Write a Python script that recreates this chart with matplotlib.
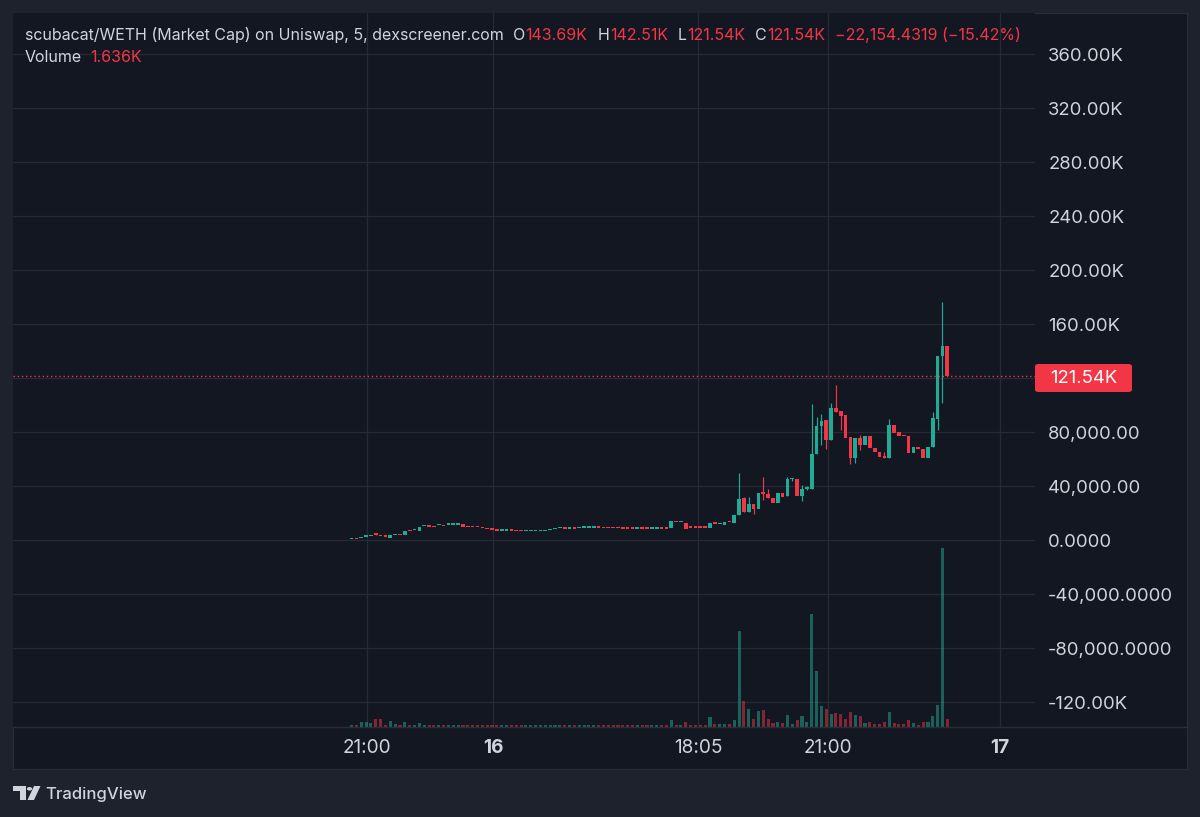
import matplotlib
matplotlib.use("Agg")
import matplotlib.pyplot as plt
from matplotlib.patches import Rectangle, FancyBboxPatch, Circle, Polygon

plt.rcParams['font.family'] = ['Inter', 'DejaVu Sans']

# ---------------- data (values in thousands) ----------------
opens = [0.6, 0.9, 1.7, 2.6, 2.9, 4.4, 3.4, 2.9, 1.7, 3.8,
         4.3, 3.7, 7.0, 7.1, 6.7, 10.2, 10.6, 10.1, 10.9, 11.0,
         11.4, 11.4, 11.4, 11.6, 10.1, 10.1, 10.0, 9.3, 8.6, 8.1,
         7.4, 7.0, 7.0, 7.3, 7.1, 6.9, 6.5, 6.5, 6.5, 6.5,
         6.5, 7.1, 8.3, 8.7, 8.8, 8.4, 8.8, 9.0, 9.2, 9.2,
         9.2, 9.6, 9.4, 9.4, 9.4, 9.1, 8.9, 8.9, 8.9, 8.5,
         8.9, 8.9, 8.5, 8.5, 8.9, 8.9, 8.9, 13.9, 13.0, 12.6,
         9.6, 9.6, 9.6, 9.6, 8.64, 12.6, 11.6, 11.36, 13.83, 12.8,
         18.77, 30.86, 20.99, 26.42, 23.21, 35.31, 33.83, 31.36, 27.65, 34.57,
         32.59, 44.9, 45.18, 32.59, 38.02, 38.02, 63.7, 84.69, 88.88, 74.07,
         97.77, 95.55, 92.59, 76.54, 60.49, 75.31, 70.12, 77.28, 68.39, 65.43,
         62.22, 60.98, 85.18, 79.75, 77.77, 77.03, 64.2, 69.13, 67.4, 60.98,
         68.64, 89.62, 136.3, 143.69]
closes = [0.9, 0.6, 2.4, 3.0, 3.9, 4.0, 3.0, 2.5, 3.7, 4.2,
          3.9, 6.9, 6.6, 7.5, 9.9, 10.9, 9.9, 9.7, 11.2, 10.6,
          11.7, 11.7, 11.7, 9.9, 9.7, 9.7, 9.6, 8.9, 8.2, 7.7,
          7.0, 7.4, 7.4, 6.9, 6.7, 6.5, 6.9, 6.9, 6.9, 6.9,
          6.9, 7.6, 8.7, 9.1, 8.4, 8.8, 8.4, 9.4, 9.6, 9.6,
          9.6, 9.2, 9.0, 9.0, 9.0, 8.7, 8.5, 8.5, 8.5, 8.9,
          8.5, 8.5, 8.9, 8.9, 8.5, 8.5, 14.0, 13.3, 13.4, 8.2,
          9.2, 9.2, 9.2, 9.2, 12.84, 12.2, 12.0, 13.33, 13.0, 18.77,
          30.37, 20.99, 26.42, 22.72, 34.57, 34.32, 30.86, 27.65, 34.57, 32.1,
          44.94, 45.18, 32.59, 37.78, 39.01, 63.7, 84.69, 87.9, 74.07, 97.77,
          95.06, 92.09, 75.31, 60.49, 75.31, 70.12, 77.28, 67.9, 64.94, 61.23,
          60.98, 85.18, 79.01, 77.28, 77.03, 64.2, 69.13, 67.16, 60.98, 68.64,
          90.12, 136.3, 143.69, 121.54]
highs = [0.9, 0.9, 2.4, 3.0, 3.9, 5.2, 3.4, 2.9, 3.7, 4.2,
         4.3, 6.9, 7.0, 7.5, 9.9, 10.9, 10.6, 10.1, 11.2, 11.0,
         11.7, 11.7, 11.7, 11.6, 10.1, 10.1, 10.0, 9.3, 8.6, 8.1,
         7.4, 7.4, 7.4, 7.3, 7.1, 6.9, 6.9, 6.9, 6.9, 6.9,
         6.9, 7.6, 8.7, 9.1, 8.8, 8.8, 8.8, 9.4, 9.6, 9.6,
         9.6, 9.6, 9.4, 9.4, 9.4, 9.1, 8.9, 8.9, 8.9, 8.9,
         8.9, 8.9, 8.9, 8.9, 8.9, 8.9, 14.0, 13.9, 13.4, 12.6,
         9.6, 9.6, 9.6, 9.6, 12.84, 12.6, 12.0, 13.33, 13.83, 18.77,
         49.38, 32.1, 32.1, 26.42, 34.57, 46.91, 37.78, 31.36, 34.57, 34.57,
         46.91, 45.6, 45.18, 40.74, 40.0, 100.7, 90.86, 93.08, 88.88, 101.23,
         114.56, 95.55, 92.59, 76.54, 75.31, 77.77, 77.28, 77.28, 68.39, 65.43,
         65.43, 89.38, 85.18, 79.75, 77.77, 77.03, 69.13, 69.13, 67.4, 68.64,
         95.06, 136.3, 176.0, 143.69]
lows = [0.6, 0.6, 1.7, 2.6, 2.9, 3.4, 3.0, 2.5, 1.7, 3.8,
        3.9, 3.7, 6.6, 7.1, 6.7, 10.2, 9.9, 9.7, 10.9, 10.6,
        11.4, 11.4, 11.4, 9.9, 9.7, 9.7, 9.6, 8.9, 8.2, 7.7,
        7.0, 7.0, 7.0, 6.9, 6.7, 6.5, 6.5, 6.5, 6.5, 6.5,
        6.5, 7.1, 8.3, 8.7, 8.4, 8.4, 8.4, 9.0, 9.2, 9.2,
        9.2, 9.2, 9.0, 9.0, 9.0, 8.7, 8.5, 8.5, 8.5, 8.5,
        8.5, 8.5, 8.5, 8.5, 8.5, 8.5, 8.9, 13.3, 13.0, 8.2,
        9.2, 9.2, 9.2, 9.2, 8.64, 12.2, 11.6, 11.36, 13.0, 12.8,
        18.77, 20.99, 20.99, 19.26, 23.21, 29.63, 30.86, 27.65, 27.65, 32.1,
        32.59, 43.5, 32.59, 29.14, 37.0, 38.02, 63.7, 70.37, 67.16, 74.07,
        95.06, 81.48, 75.31, 56.29, 56.79, 66.66, 70.12, 67.9, 64.94, 61.23,
        60.98, 60.98, 79.01, 77.28, 77.03, 64.2, 64.2, 67.16, 60.98, 60.98,
        68.64, 81.48, 101.2, 121.54]
volumes = [0.4, 0.4, 1.0, 1.0, 0.9, 1.6, 1.6, 0.4, 1.2, 0.6,
           0.4, 1.1, 0.4, 0.4, 0.8, 0.4, 0.35, 0.35, 0.35, 0.35,
           0.35, 0.35, 0.35, 0.35, 0.35, 0.35, 0.35, 0.35, 0.35, 0.35,
           0.35, 0.35, 0.35, 0.35, 0.35, 0.35, 0.35, 0.35, 0.35, 0.35,
           0.35, 0.35, 0.35, 0.35, 0.35, 0.35, 0.35, 0.35, 0.35, 0.35,
           0.35, 0.35, 0.35, 0.35, 0.35, 0.35, 0.35, 0.35, 0.35, 0.35,
           0.35, 0.35, 0.35, 0.35, 0.35, 0.35, 1.4, 0.4, 0.4, 1.0,
           0.5, 0.5, 0.5, 0.5, 2.1, 0.6, 0.6, 0.7, 0.6, 1.4,
           20.3, 5.5, 3.8, 1.8, 3.4, 3.7, 1.8, 0.85, 1.1, 0.85,
           2.55, 0.7, 1.4, 2.3, 1.0, 24.1, 11.8, 4.5, 3.8, 2.7,
           2.9, 2.8, 1.6, 3.2, 2.55, 2.3, 0.85, 1.0, 0.64, 0.64,
           1.0, 3.1, 0.8, 0.57, 0.57, 1.4, 0.85, 0.43, 1.13, 1.0,
           2.3, 4.6, 38.0, 1.636]

time_labels = ["21:00", "16", "18:05", "21:00", "17"]
time_bold = [False, True, False, False, True]
time_pos = [3.2, 29.2, 71.6, 98.4, 133.8]

price_ticks = [360, 320, 280, 240, 200, 160, 120, 80, 40, 0, -40, -80, -120]
price_labels = ["360.00K", "320.00K", "280.00K", "240.00K", "200.00K", "160.00K", "",
                "80,000.00", "40,000.00", "0.0000", "-40,000.0000", "-80,000.0000", "-120.00K"]

last_price = 121.54
title_main = "scubacat/WETH (Market Cap) on Uniswap, 5, dexscreener.com"
ohlc_text = [("O", "143.69K"), ("H", "142.51K"), ("L", "121.54K"), ("C", "121.54K")]
change_text = "\u221222,154.4319 (\u221215.42%)"
volume_text = "1.636K"

# ---------------- styling ----------------
W, H = 1200, 817
BG_OUT = "#1e222d"
BG_PANEL = "#131722"
GRID = "#262a35"
TXT = "#d1d4dc"
UP = "#22ab94"
DN = "#f23645"
FS = 11.5
FS_AX = 13.3

fig = plt.figure(figsize=(W / 100, H / 100), dpi=100, facecolor=BG_OUT)

def fx(x):
    return x / W

def fy(y):
    return 1 - y / H

# chart panel
fig.patches.append(Rectangle((fx(13), fy(769)), fx(1187) - fx(13), fy(13) - fy(769),
                             transform=fig.transFigure, facecolor=BG_PANEL,
                             edgecolor="#2a2e39", lw=0.8, zorder=-5))

ax = fig.add_axes([fx(13), fy(727), fx(1035) - fx(13), fy(13) - fy(727)])
ax.set_facecolor(BG_PANEL)

# volume on a twin axis
vax = ax.twinx()
vax.set_ylim(0, 151.7)
vax.set_yticks([])
for s in vax.spines.values():
    s.set_visible(False)

ax.set_xlim(-69.9, 141.1)
ax.set_ylim(-138.5, 390.4)
for s in ax.spines.values():
    s.set_visible(False)

ax.set_yticks(price_ticks)
ax.set_yticklabels(price_labels)
ax.yaxis.tick_right()
ax.tick_params(axis='y', which='both', left=False, right=True, labelleft=False, labelright=True,
               length=0, pad=9.5, labelsize=FS_AX, labelcolor=TXT)
ax.set_xticks(time_pos)
ax.set_xticklabels(time_labels)
ax.tick_params(axis='x', length=0, pad=8.5, labelsize=FS_AX + 0.4, labelcolor=TXT)
for lab, b in zip(ax.get_xticklabels(), time_bold):
    if b:
        lab.set_fontweight('bold')
ax.grid(True, color=GRID, lw=0.9)
ax.set_axisbelow(True)

# time-axis separator line
fig.lines.append(plt.Line2D([fx(13), fx(1187)], [fy(727), fy(727)], transform=fig.transFigure,
                            color="#2a2e39", lw=1.0))

idx = list(range(len(opens)))
vcolors = [UP if c >= o else DN for o, c in zip(opens, closes)]
vax.bar(idx, volumes, width=0.64, color=vcolors, alpha=0.5, lw=0)

# candles
min_body = 0.9
for i, (o, c, h, l) in enumerate(zip(opens, closes, highs, lows)):
    col = UP if c >= o else DN
    if h > max(o, c) or l < min(o, c):
        ax.vlines(i, l, h, color=col, lw=0.85, zorder=3)
    lo = min(o, c)
    ht = max(abs(c - o), min_body)
    ax.add_patch(Rectangle((i - 0.38, lo), 0.76, ht, facecolor=col, edgecolor='none', zorder=4))

# last price line
ax.axhline(last_price, color=DN, lw=1.0, ls=(0, (1, 2)), zorder=2)

# last price label
fig.patches.append(FancyBboxPatch((fx(1035), fy(392)), fx(1132) - fx(1035), fy(364) - fy(392),
                                  boxstyle="round,pad=0,rounding_size=0.003",
                                  transform=fig.transFigure, facecolor=DN, edgecolor='none', zorder=5))
fig.text(fx(1050), fy(378), "121.54K", color="white", fontsize=FS_AX, ha='left', va='center', zorder=6)

# header legend
fig.canvas.draw()
renderer = fig.canvas.get_renderer()

def put(x, y, s, color, gap):
    t = fig.text(fx(x), fy(y), s, color=color, fontsize=FS, ha='left', va='center')
    bb = t.get_window_extent(renderer)
    return bb.x1 + gap

x = put(25, 35, title_main, TXT, 9)
for k, (lab, val) in enumerate(ohlc_text):
    x = put(x, 35, lab, TXT, 0.5)
    x = put(x, 35, val, DN, 10)
put(x, 35, change_text, DN, 0)
x = put(25, 58, "Volume", TXT, 8)
put(x, 58, volume_text, DN, 0)

# TradingView logo
logo_col = "#d1d4dc"
fig.patches.append(Polygon([(fx(13), fy(786)), (fx(26), fy(786)), (fx(26), fy(800)), (fx(20), fy(800)),
                            (fx(20), fy(791)), (fx(13), fy(791))], closed=True,
                           transform=fig.transFigure, facecolor=logo_col, edgecolor='none'))
fig.patches.append(Circle((fx(29.5), fy(788.8)), 2.6 / W, transform=fig.transFigure,
                          facecolor=logo_col, edgecolor='none'))
fig.patches.append(Polygon([(fx(34), fy(786)), (fx(40.5), fy(786)), (fx(34), fy(800)), (fx(27.5), fy(800))],
                           closed=True, transform=fig.transFigure, facecolor=logo_col, edgecolor='none'))
fig.text(fx(45), fy(794), "TradingView", color=logo_col, fontsize=12.0, ha='left', va='center',
         fontweight='medium')

fig.savefig("out.png", dpi=100, facecolor=BG_OUT)
